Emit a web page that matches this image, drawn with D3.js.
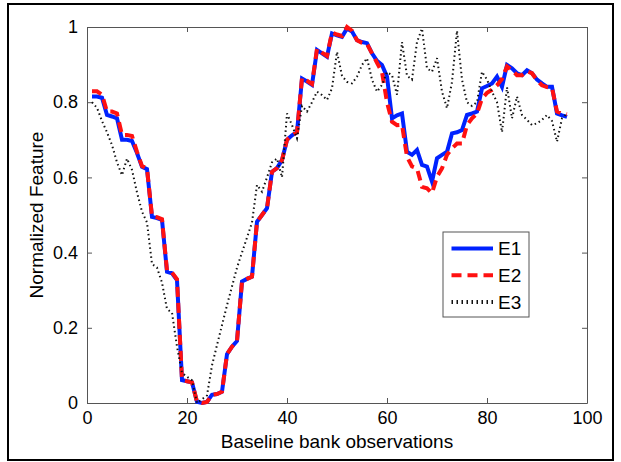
<!DOCTYPE html>
<html>
<head>
<meta charset="utf-8">
<script src="https://cdn.jsdelivr.net/npm/d3@7"></script>
<style>
  body { margin: 0; background: #fff; }
  svg { display: block; font-family: "Liberation Sans", Arial, sans-serif; }
  .axis path, .axis line { stroke: #555; }
  .axis text { font-size: 18px; fill: #000; }
</style>
</head>
<body>
<div id="chart"></div>
<script>
// observation index, 1..96
var obs = d3.range(1, 97);

var e1 = [0.815, 0.815, 0.812, 0.766, 0.762, 0.757, 0.700, 0.700, 0.697, 0.665,
  0.628, 0.622, 0.495, 0.492, 0.487, 0.349, 0.345, 0.327, 0.061, 0.058,
  0.055, 0.003, 0.000, 0.003, 0.022, 0.024, 0.030, 0.130, 0.150, 0.165,
  0.323, 0.330, 0.336, 0.482, 0.500, 0.518, 0.615, 0.625, 0.646, 0.700,
  0.712, 0.720, 0.863, 0.855, 0.846, 0.939, 0.930, 0.921, 0.983, 0.978,
  0.974, 0.996, 0.988, 0.965, 0.960, 0.957, 0.930, 0.910, 0.899, 0.868,
  0.757, 0.765, 0.770, 0.668, 0.660, 0.673, 0.633, 0.629, 0.589, 0.651,
  0.660, 0.668, 0.717, 0.720, 0.726, 0.766, 0.770, 0.775, 0.837, 0.843,
  0.850, 0.868, 0.841, 0.899, 0.890, 0.877, 0.872, 0.885, 0.877, 0.860,
  0.850, 0.841, 0.841, 0.770, 0.765, 0.761];

var e2 = [0.829, 0.829, 0.820, 0.775, 0.775, 0.770, 0.713, 0.713, 0.710, 0.668,
  0.630, 0.624, 0.497, 0.494, 0.489, 0.352, 0.347, 0.329, 0.062, 0.058,
  0.055, 0.003, 0.000, 0.003, 0.022, 0.024, 0.030, 0.130, 0.150, 0.165,
  0.323, 0.330, 0.336, 0.482, 0.500, 0.518, 0.615, 0.625, 0.646, 0.700,
  0.712, 0.720, 0.865, 0.857, 0.848, 0.942, 0.932, 0.923, 0.985, 0.980,
  0.976, 1.000, 0.990, 0.965, 0.958, 0.955, 0.930, 0.905, 0.880, 0.800,
  0.748, 0.739, 0.740, 0.655, 0.629, 0.624, 0.575, 0.571, 0.558, 0.602,
  0.624, 0.660, 0.677, 0.690, 0.690, 0.739, 0.757, 0.770, 0.810, 0.825,
  0.833, 0.845, 0.862, 0.895, 0.885, 0.872, 0.872, 0.882, 0.877, 0.858,
  0.845, 0.840, 0.838, 0.775, 0.770, 0.768];

var e3 = [0.800, 0.785, 0.750, 0.720, 0.686, 0.640, 0.606, 0.650, 0.620, 0.560,
  0.509, 0.480, 0.370, 0.360, 0.320, 0.250, 0.240, 0.150, 0.080, 0.070,
  0.060, 0.000, 0.010, 0.020, 0.100, 0.154, 0.207, 0.260, 0.310, 0.360,
  0.400, 0.440, 0.480, 0.580, 0.562, 0.600, 0.640, 0.650, 0.600, 0.770,
  0.739, 0.704, 0.790, 0.775, 0.800, 0.828, 0.819, 0.806, 0.837, 0.934,
  0.870, 0.854, 0.850, 0.868, 0.899, 0.917, 0.860, 0.828, 0.846, 0.880,
  0.872, 0.820, 0.960, 0.870, 0.860, 0.960, 0.996, 0.890, 0.881, 0.917,
  0.828, 0.784, 0.854, 0.990, 0.860, 0.800, 0.790, 0.800, 0.881, 0.860,
  0.828, 0.800, 0.720, 0.840, 0.757, 0.815, 0.766, 0.753, 0.739, 0.744,
  0.753, 0.766, 0.750, 0.695, 0.757, 0.770];

var seriesNames = ["E1", "E2", "E3"];
var xTicks = [0, 20, 40, 60, 80, 100];
var yTicks = [0, 0.2, 0.4, 0.6, 0.8, 1];

var W = 621, H = 462;
var margin = {top: 27, right: 34, bottom: 59, left: 87};
var width = W - margin.left - margin.right,
    height = H - margin.top - margin.bottom;

var svg = d3.select("#chart").append("svg")
  .attr("width", W)
  .attr("height", H);

//OUTER FRAME
svg.append("rect")
  .attr("x", 8).attr("y", 4)
  .attr("width", 605).attr("height", 456)
  .attr("fill", "none")
  .attr("stroke", "#000")
  .attr("stroke-width", 2);

var g = svg.append("g")
  .attr("transform", `translate(${margin.left}, ${margin.top})`);

var xScale = d3.scaleLinear().domain([0, 100]).range([0, width]);
var yScale = d3.scaleLinear().domain([0, 1]).range([height, 0]);

//AXES, MATLAB STYLE INWARD TICKS ON ALL SIDES
g.append("g")
  .attr("class", "axis")
  .attr("transform", `translate(0, ${height})`)
  .call(d3.axisBottom(xScale).tickValues(xTicks).tickSize(-5).tickSizeOuter(0).tickPadding(8).tickFormat(d3.format("d")));

g.append("g")
  .attr("class", "axis")
  .call(d3.axisTop(xScale).tickValues(xTicks).tickSize(-5).tickSizeOuter(0).tickFormat(""));

g.append("g")
  .attr("class", "axis")
  .call(d3.axisLeft(yScale).tickValues(yTicks).tickSize(-5).tickSizeOuter(0).tickPadding(9).tickFormat(function(d) { return d3.format("~g")(d); }));

g.append("g")
  .attr("class", "axis")
  .attr("transform", `translate(${width}, 0)`)
  .call(d3.axisRight(yScale).tickValues(yTicks).tickSize(-5).tickSizeOuter(0).tickFormat(""));

//LINES
var line = d3.line()
  .x(function(d) { return xScale(d[0]); })
  .y(function(d) { return yScale(d[1]); });

var styles = [
  {data: e1, color: "#0022ff", width: 4, dash: null},
  {data: e2, color: "#ff1111", width: 4, dash: "10,6"},
  {data: e3, color: "#111", width: 2, dash: "1.5,3"}
];

styles.forEach(function(s) {
  g.append("path")
    .datum(obs.map(function(x, i) { return [x, s.data[i]]; }))
    .attr("d", line)
    .attr("fill", "none")
    .attr("stroke", s.color)
    .attr("stroke-width", s.width)
    .attr("stroke-dasharray", s.dash);
});

//LEGEND
var legend = svg.append("g").attr("transform", "translate(443, 232)");
legend.append("rect")
  .attr("width", 86).attr("height", 85)
  .attr("fill", "#fff")
  .attr("stroke", "#555");

styles.forEach(function(s, i) {
  var y = 16.5 + i * 26.7;
  legend.append("line")
    .attr("x1", 8.5).attr("x2", 50)
    .attr("y1", y).attr("y2", y)
    .attr("stroke", s.color)
    .attr("stroke-width", i === 2 ? 4 : s.width)
    .attr("stroke-dasharray", i === 2 ? "1.5,3.5" : s.dash);
  legend.append("text")
    .attr("x", 55).attr("y", y)
    .attr("dy", "0.36em")
    .style("font-size", "19px")
    .text(seriesNames[i]);
});

//AXIS TITLES
svg.append("text")
  .attr("x", margin.left + width / 2)
  .attr("y", 448)
  .attr("text-anchor", "middle")
  .style("font-size", "19px")
  .text("Baseline bank observations");

svg.append("text")
  .attr("transform", `translate(43, ${margin.top + height / 2}) rotate(-90)`)
  .attr("text-anchor", "middle")
  .style("font-size", "19px")
  .text("Normalized Feature");
</script>
</body>
</html>
